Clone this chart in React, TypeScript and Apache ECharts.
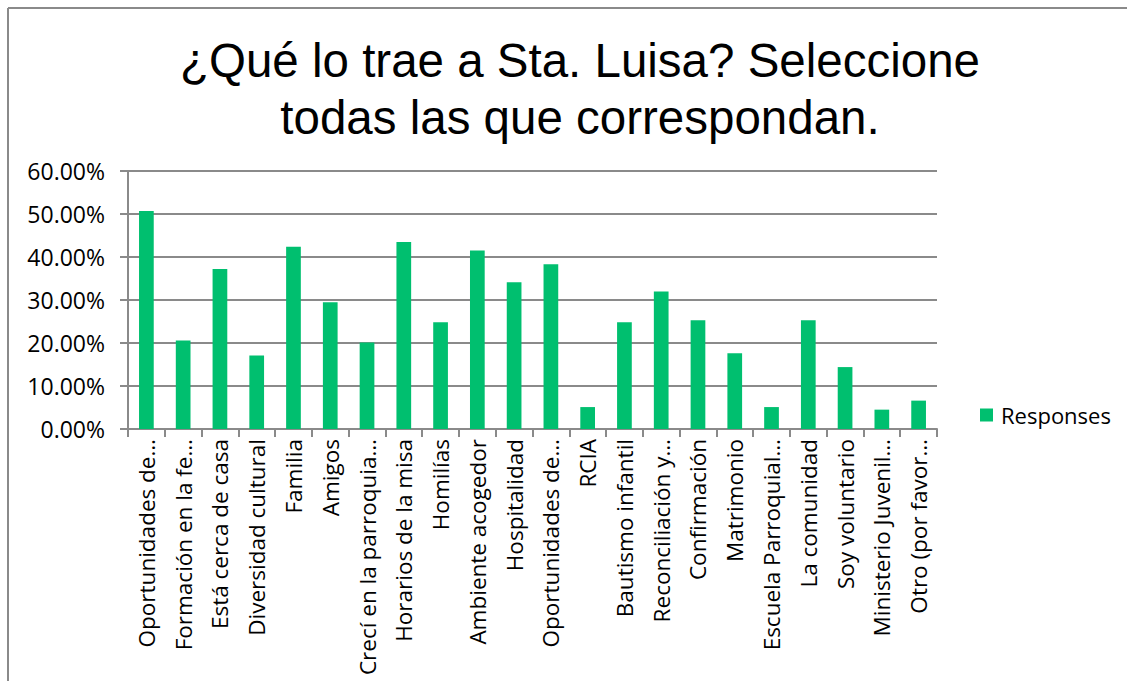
import React, { useEffect, useRef } from "react";
import * as echarts from "echarts";

const titleLines = ["¿Qué lo trae a Sta. Luisa? Seleccione", "todas las que correspondan."];
const seriesName = "Responses";
const categories = [
  "Oportunidades de…",
  "Formación en la fe…",
  "Está cerca de casa",
  "Diversidad cultural",
  "Familia",
  "Amigos",
  "Crecí en la parroquia…",
  "Horarios de la misa",
  "Homilías",
  "Ambiente acogedor",
  "Hospitalidad",
  "Oportunidades de…",
  "RCIA",
  "Bautismo infantil",
  "Reconciliación y…",
  "Confirmación",
  "Matrimonio",
  "Escuela Parroquial…",
  "La comunidad",
  "Soy voluntario",
  "Ministerio Juvenil…",
  "Otro (por favor…",
];
const values = [
  0.507, 0.206, 0.372, 0.171, 0.424, 0.295, 0.201, 0.435, 0.248, 0.415, 0.341,
  0.383, 0.051, 0.248, 0.32, 0.253, 0.176, 0.051, 0.253, 0.144, 0.045, 0.066,
];
const yTicks = { min: 0, max: 0.6, interval: 0.1 };

const GREEN = "#00BF6F";
const GRAY = "#8a8a8a";
const LABEL_FONT = "Open Sans";

export default function App() {
  const ref = useRef<HTMLDivElement>(null);
  useEffect(() => {
    if (!ref.current) return;
    const chart = echarts.init(ref.current, null, { renderer: "svg" });
    chart.setOption({
      animation: false,
      backgroundColor: "#ffffff",
      title: {
        text: titleLines.join("\n"),
        left: 575,
        top: 27,
        textAlign: "center",
        textStyle: {
          fontFamily: "Liberation Sans",
          fontSize: 47.5,
          fontWeight: "normal",
          color: "#000",
          lineHeight: 57,
        },
      },
      graphic: [
        { type: "line", shape: { x1: 8, y1: 8, x2: 1127, y2: 8 }, style: { stroke: GRAY, lineWidth: 2 } },
        { type: "line", shape: { x1: 8, y1: 8, x2: 8, y2: 681 }, style: { stroke: GRAY, lineWidth: 2 } },
      ],
      legend: {
        data: [seriesName],
        left: 975,
        top: 399,
        itemWidth: 13,
        itemHeight: 13,
        icon: "rect",
        textStyle: { fontFamily: LABEL_FONT, fontSize: 22, color: "#000", padding: [0, 0, 0, 3] },
      },
      grid: { left: 128, right: 190, top: 171, bottom: 252, containLabel: false, outerBoundsMode: "none" },
      xAxis: {
        type: "category",
        data: categories,
        axisLine: { lineStyle: { color: GRAY, width: 2 } },
        axisTick: { show: true, length: 8, interval: 0, lineStyle: { color: GRAY, width: 2 } },
        axisLabel: {
          interval: 0,
          rotate: 90,
          margin: 10,
          fontFamily: LABEL_FONT,
          fontSize: 22.5,
          color: "#000",
        },
      },
      yAxis: {
        type: "value",
        min: yTicks.min,
        max: yTicks.max,
        interval: yTicks.interval,
        axisLine: { show: true, lineStyle: { color: GRAY, width: 2 } },
        axisTick: { show: true, length: 8, lineStyle: { color: GRAY, width: 2 } },
        splitLine: { lineStyle: { color: GRAY, width: 2 } },
        axisLabel: {
          margin: 23,
          fontFamily: LABEL_FONT,
          fontSize: 23,
          color: "#000",
          formatter: (v: number) => (v * 100).toFixed(2) + "%",
        },
      },
      series: [
        {
          name: seriesName,
          type: "bar",
          data: values,
          barWidth: "40%",
          itemStyle: { color: GREEN },
        },
      ],
    });
    return () => chart.dispose();
  }, []);
  return (
    <div
      ref={ref}
      style={{ position: "fixed", left: 0, top: 0, width: 1127, height: 681 }}
    />
  );
}
